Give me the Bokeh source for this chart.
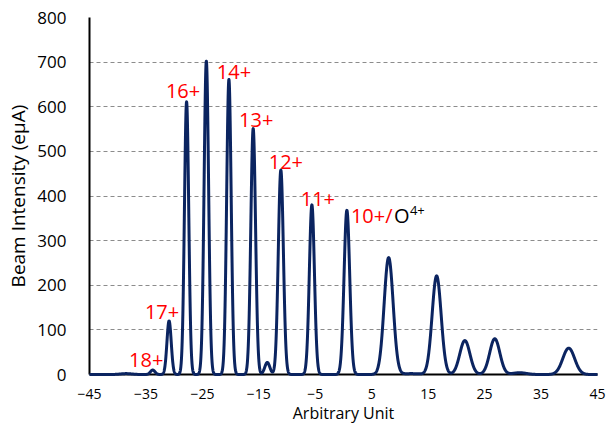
import numpy as np
from bokeh.plotting import figure
from bokeh.models import ColumnDataSource, FixedTicker, Range1d
from bokeh.core.properties import value
from bokeh.embed import file_html
from bokeh.resources import INLINE

# Peak data
peak_pos = [-38.5, -33.8, -30.9, -27.8, -24.3, -20.3, -16.0, -13.5, -11.1, -5.6,
            0.6, 8.0, 12.0, 16.5, 21.5, 26.8, 31.2, 39.9]
peak_height = [2, 10, 120, 611, 702, 661, 551, 27, 458, 380,
               368, 262, 2, 221, 76, 80, 4, 59]
peak_sigma = [1.0, 0.4, 0.38, 0.38, 0.4, 0.4, 0.42, 0.45, 0.45, 0.45,
              0.5, 0.8, 1.5, 0.8, 0.9, 0.9, 1.2, 1.05]

x_ticks = [-45, -35, -25, -15, -5, 5, 15, 25, 35, 45]
y_ticks = [0, 100, 200, 300, 400, 500, 600, 700, 800]

label_text = ["18+", "17+", "16+", "14+", "13+", "12+", "11+"]
label_peak = [1, 2, 3, 5, 6, 8, 9]
label_dx = [-6.5, -7, -3.5, 5, 3, 5, 6]
label_dy = [-10, -9, -11, -8, -9, -8, -6]

# spectrum curve built from the peaks
xs = np.arange(-45, 45.001, 0.02)
ys = np.zeros_like(xs)
for c, h, s in zip(peak_pos, peak_height, peak_sigma):
    ys += h * np.exp(-0.5 * ((xs - c) / s) ** 2)

FONT = "Open Sans"

p = figure(width=616, height=426, output_backend="svg", toolbar_location=None,
           x_range=Range1d(-45, 45), y_range=Range1d(0, 800),
           min_border_left=89, min_border_right=19, min_border_top=17,
           min_border_bottom=52)
p.outline_line_color = None
p.background_fill_color = "white"
p.border_fill_color = "white"

p.xgrid.visible = False
p.ygrid.grid_line_color = "#8c8c8c"
p.ygrid.grid_line_dash = "4 3"
p.ygrid.grid_line_width = 1.2

p.xaxis.ticker = FixedTicker(ticks=x_ticks)
p.yaxis.ticker = FixedTicker(ticks=y_ticks)
for ax in (p.xaxis[0], p.yaxis[0]):
    ax.major_tick_line_color = None
    ax.minor_tick_line_color = None
    ax.axis_line_color = "black"
    ax.axis_line_width = 2
    ax.major_label_text_font = FONT
    ax.major_label_text_color = "black"
    ax.axis_label_text_font = FONT
    ax.axis_label_text_font_style = "normal"
    ax.axis_label_text_color = "black"

p.xaxis.axis_label = "Arbitrary Unit"
p.xaxis.axis_label_text_font_size = "16px"
p.xaxis.major_label_text_font_size = "14px"
p.xaxis.major_label_standoff = 8
p.xaxis.axis_label_standoff = 0

p.yaxis.axis_label = "Beam Intensity (eμA)"
p.yaxis.axis_label_text_font_size = "19px"
p.yaxis.major_label_text_font_size = "17px"
p.yaxis.major_label_standoff = 17
p.yaxis.axis_label_standoff = 3

line = p.line(xs, ys, line_color="#0b2460", line_width=3, line_join="round")
line.level = "annotation"

src = ColumnDataSource(dict(
    x=[peak_pos[i] for i in label_peak],
    y=[peak_height[i] for i in label_peak],
    t=label_text, dx=label_dx, dy=label_dy))
p.text(x="x", y="y", text="t", x_offset="dx", y_offset="dy", source=src,
       text_color="red", text_font=value(FONT), text_font_size="20px",
       text_align="center", text_baseline="middle")

i10 = 10
p.text(x=[peak_pos[i10]], y=[peak_height[i10]], text=["10+/"], x_offset=4, y_offset=5,
       text_color="red", text_font=value(FONT), text_font_size="20px",
       text_align="left", text_baseline="middle")
p.text(x=[peak_pos[i10]], y=[peak_height[i10]], text=["O"], x_offset=47, y_offset=5,
       text_color="black", text_font=value(FONT), text_font_size="20px",
       text_align="left", text_baseline="middle")
p.text(x=[peak_pos[i10]], y=[peak_height[i10]], text=["4+"], x_offset=63, y_offset=0,
       text_color="black", text_font=value(FONT), text_font_size="13px",
       text_align="left", text_baseline="middle")

open("out.html", "w").write(file_html(p, INLINE))
